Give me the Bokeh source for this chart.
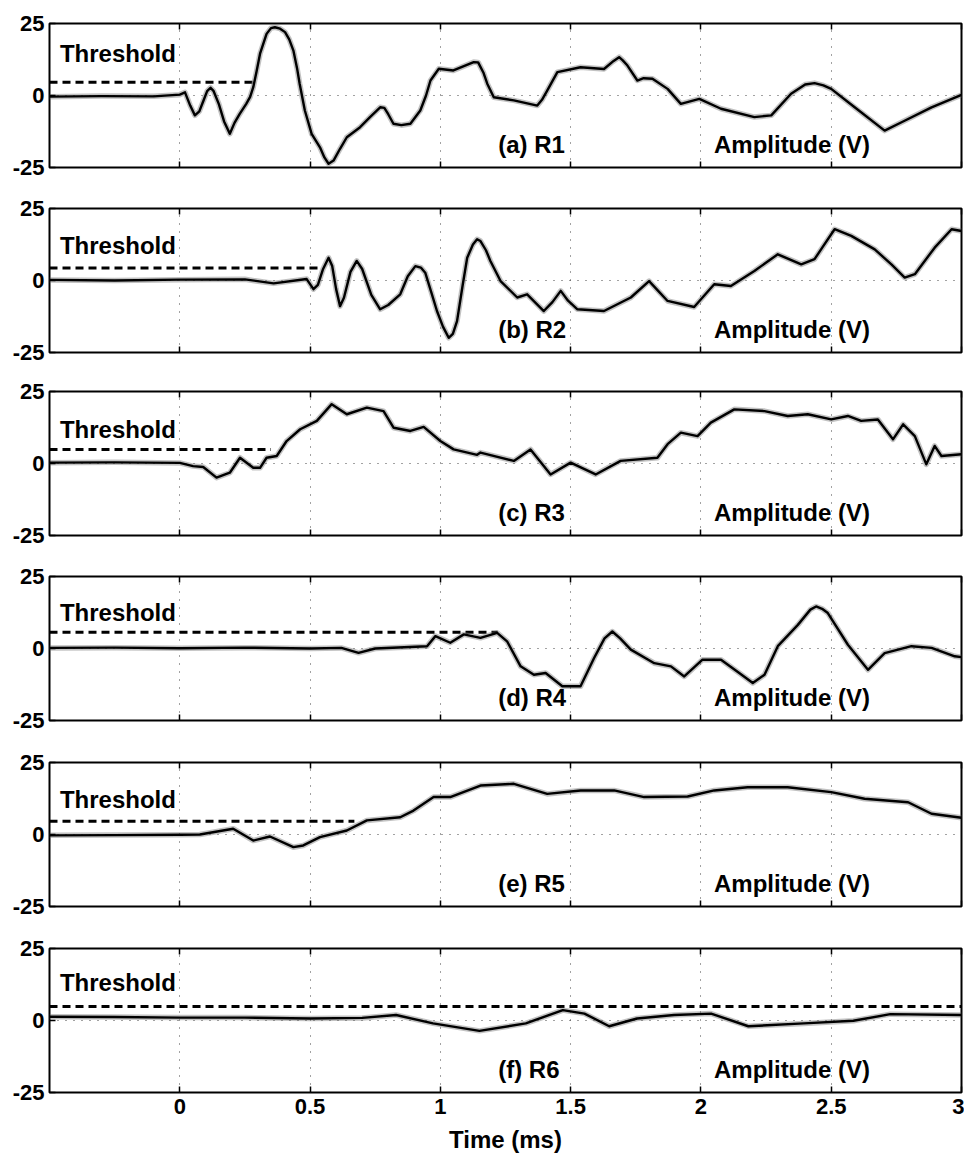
from bokeh.plotting import figure
from bokeh.models import Range1d, FixedTicker, LinearAxis, Label
from bokeh.layouts import column
from bokeh.embed import file_html
from bokeh.resources import INLINE

# ---------------- data ----------------
x_ticks = [0, 0.5, 1, 1.5, 2, 2.5, 3]
x_tick_labels = ["0", "0.5", "1", "1.5", "2", "2.5", "3"]
y_ticks = [-25, 0, 25]
y_tick_labels = ["-25", "0", "25"]

panel_names = ["(a) R1", "(b) R2", "(c) R3", "(d) R4", "(e) R5", "(f) R6"]

t_r1 = [-0.5, -0.3, -0.1, 0.0, 0.02, 0.04, 0.058, 0.075, 0.09, 0.105, 0.118, 0.13, 0.15,
        0.17, 0.192, 0.21, 0.23, 0.255, 0.27, 0.282, 0.295, 0.308, 0.333, 0.35, 0.365,
        0.385, 0.404, 0.42, 0.436, 0.45, 0.46, 0.48, 0.506, 0.538, 0.555, 0.571, 0.59,
        0.615, 0.641, 0.692, 0.73, 0.769, 0.785, 0.80, 0.82, 0.85, 0.885, 0.923, 0.945,
        0.962, 0.994, 1.05, 1.128, 1.145, 1.165, 1.18, 1.205, 1.282, 1.372, 1.39, 1.41,
        1.449, 1.538, 1.628, 1.665, 1.686, 1.70, 1.718, 1.756, 1.78, 1.814, 1.872, 1.923,
        1.994, 2.077, 2.205, 2.27, 2.346, 2.40, 2.436, 2.47, 2.5, 2.59, 2.705, 2.77, 2.885, 3.0]
v_r1 = [-0.4, -0.2, -0.3, 0.3, 1.1, -3.5, -6.9, -5.5, -2.0, 1.5, 2.7, 1.5, -3.0,
        -9.0, -13.3, -9.5, -6.4, -2.9, -0.5, 2.9, 8.5, 14.5, 21.4, 23.4, 23.7,
        23.2, 22.0, 19.5, 15.6, 9.5, 4.1, -5.2, -13.3, -18.0, -21.5, -23.7, -22.6,
        -18.5, -14.5, -11.0, -7.5, -4.1, -4.3, -6.5, -9.8, -10.3, -9.8, -5.2, 0.0,
        5.2, 9.3, 8.7, 11.6, 11.5, 8.0, 4.1, -0.6, -1.7, -3.5, -1.5, 1.7,
        8.1, 9.8, 9.2, 12.0, 13.3, 12.2, 10.4, 5.2, 6.0, 5.8, 2.3, -2.9,
        -1.2, -4.6, -7.5, -6.9, 0.6, 3.8, 4.3, 3.5, 2.3, -4.1, -12.2, -9.3, -4.1, 0.2]

t_r2 = [-0.5, -0.25, 0.0, 0.25, 0.36, 0.487, 0.513, 0.53, 0.55, 0.571, 0.585, 0.60, 0.615,
        0.63, 0.655, 0.679, 0.70, 0.735, 0.769, 0.80, 0.846, 0.875, 0.904, 0.925, 0.942,
        0.965, 0.987, 1.01, 1.032, 1.048, 1.064, 1.085, 1.103, 1.125, 1.141, 1.154, 1.175,
        1.192, 1.231, 1.295, 1.333, 1.397, 1.43, 1.462, 1.49, 1.526, 1.628, 1.731, 1.801,
        1.835, 1.872, 1.974, 2.051, 2.115, 2.205, 2.295, 2.385, 2.436, 2.47, 2.513, 2.577,
        2.667, 2.731, 2.782, 2.821, 2.897, 2.962, 3.0]
v_r2 = [0.2, 0.0, 0.3, 0.4, -1.0, 0.5, -3.0, -1.5, 4.0, 7.9, 5.0, -3.0, -8.9,
        -6.0, 3.0, 6.8, 4.0, -5.0, -10.0, -8.5, -4.8, 1.5, 5.0, 4.5, 2.7,
        -4.0, -10.6, -16.0, -19.9, -18.5, -14.1, -2.0, 7.9, 12.5, 14.3, 13.7, 10.5,
        6.8, -0.2, -5.9, -4.8, -10.6, -7.5, -3.6, -7.0, -10.0, -10.6, -5.9, -0.2,
        -3.5, -7.1, -9.2, -1.3, -1.9, 3.3, 9.1, 5.6, 7.4, 12.0, 17.8, 15.5,
        10.8, 5.6, 1.0, 2.2, 11.4, 17.8, 17.2]

t_r3 = [-0.5, -0.25, 0.0, 0.051, 0.09, 0.141, 0.192, 0.231, 0.282, 0.308, 0.333, 0.372,
        0.41, 0.462, 0.526, 0.583, 0.641, 0.718, 0.782, 0.821, 0.885, 0.936, 1.0, 1.051,
        1.141, 1.154, 1.282, 1.346, 1.423, 1.5, 1.596, 1.692, 1.833, 1.872, 1.923, 1.987,
        2.038, 2.128, 2.244, 2.333, 2.41, 2.5, 2.564, 2.615, 2.679, 2.737, 2.776, 2.821,
        2.865, 2.897, 2.923, 3.0]
v_r3 = [0.3, 0.4, 0.2, -0.9, -1.2, -4.9, -3.2, 2.0, -1.5, -1.5, 2.0, 2.6,
        7.8, 11.9, 14.8, 20.6, 17.1, 19.4, 18.2, 12.4, 11.3, 12.7, 7.8, 4.9,
        3.0, 3.8, 0.9, 4.9, -3.8, 0.3, -3.8, 0.9, 2.0, 6.7, 10.7, 9.5,
        14.2, 18.8, 18.2, 16.5, 17.1, 15.3, 16.5, 14.8, 15.3, 8.4, 13.6, 9.5,
        -0.3, 6.1, 2.6, 3.2]

t_r4 = [-0.5, -0.25, 0.0, 0.25, 0.5, 0.62, 0.686, 0.75, 0.949, 0.981, 1.038, 1.09, 1.154,
        1.218, 1.256, 1.308, 1.359, 1.404, 1.468, 1.538, 1.59, 1.63, 1.66, 1.69, 1.731,
        1.821, 1.885, 1.936, 2.006, 2.077, 2.147, 2.199, 2.244, 2.295, 2.372, 2.42, 2.442,
        2.465, 2.487, 2.564, 2.641, 2.705, 2.808, 2.885, 2.974, 3.0]
v_r4 = [0.2, 0.3, 0.1, 0.3, 0.0, 0.2, -1.5, 0.0, 0.8, 4.3, 2.0, 4.9, 3.7,
        5.4, 2.5, -6.2, -9.1, -8.5, -13.1, -13.1, -3.3, 3.5, 5.9, 3.5, -0.4,
        -5.1, -6.2, -9.7, -3.9, -3.9, -8.5, -12.0, -9.1, 0.8, 8.2, 13.5, 14.6,
        13.8, 12.3, 1.3, -7.4, -1.6, 0.8, 0.2, -2.7, -3.0]

t_r5 = [-0.5, -0.25, 0.0, 0.077, 0.205, 0.282, 0.346, 0.436, 0.474, 0.538, 0.641, 0.718,
        0.846, 0.897, 0.974, 1.038, 1.154, 1.282, 1.41, 1.538, 1.667, 1.782, 1.949, 2.051,
        2.179, 2.333, 2.5, 2.628, 2.795, 2.885, 3.0]
v_r5 = [-0.3, -0.2, -0.1, 0.0, 2.0, -2.1, -0.7, -4.4, -3.8, -0.9, 1.4, 4.9,
        6.0, 8.3, 13.0, 13.0, 17.0, 17.6, 14.1, 15.3, 15.3, 13.0, 13.2, 15.3,
        16.4, 16.4, 14.7, 12.4, 11.2, 7.2, 5.8]

t_r6 = [-0.5, -0.25, 0.0, 0.25, 0.5, 0.7, 0.83, 0.972, 1.15, 1.328, 1.47, 1.553, 1.648,
        1.755, 1.897, 2.039, 2.182, 2.395, 2.585, 2.727, 3.0]
v_r6 = [1.3, 1.2, 1.0, 1.0, 0.7, 0.9, 1.9, -1.0, -3.6, -1.0, 3.6, 2.4, -2.0,
        0.7, 1.9, 2.4, -2.0, -1.0, -0.1, 2.2, 1.9]

threshold_levels = [4.6, 4.3, 4.9, 5.6, 4.6, 4.9]
threshold_end = [0.28, 0.54, 0.35, 1.22, 0.67, 3.0]

series_t = [t_r1, t_r2, t_r3, t_r4, t_r5, t_r6]
series_v = [v_r1, v_r2, v_r3, v_r4, v_r5, v_r6]

# ---------------- layout / style ----------------
FONT = "Liberation Sans"
frame_tops = [23, 208, 391, 576, 762, 948]
FRAME_H = 144
thr_label_y = [14.7, 12.2, 11.9, 12.4, 12.1, 13.1]
name_label_y = -16.9


def style_axis(ax, show_labels, size="22px"):
    ax.axis_line_color = None
    ax.major_tick_in = 6
    ax.major_tick_out = 0
    ax.major_tick_line_width = 1.5
    ax.major_tick_line_color = "black"
    ax.minor_tick_line_color = None
    ax.major_label_text_font = FONT
    ax.major_label_text_font_style = "bold"
    ax.major_label_text_color = "black"
    ax.major_label_text_font_size = size if show_labels else "0px"


figs = []
prev_bottom = 0
for i in range(6):
    last = i == 5
    top_border = frame_tops[i] - prev_bottom
    bottom_border = 60 if last else 20
    p = figure(frame_width=912, frame_height=FRAME_H,
               x_range=Range1d(-0.5, 3), y_range=Range1d(-25, 25),
               output_backend="svg", toolbar_location=None,
               min_border_left=49, min_border_right=3,
               min_border_top=top_border, min_border_bottom=bottom_border,
               background_fill_color="white", border_fill_color="white")
    prev_bottom = frame_tops[i] + FRAME_H + bottom_border

    p.outline_line_color = "black"
    p.outline_line_width = 2
    p.outline_line_alpha = 1

    # bottom axis
    xa = p.xaxis[0]
    xa.ticker = FixedTicker(ticks=x_ticks)
    xa.major_label_overrides = {k: (lab if last else "") for k, lab in zip(x_ticks, x_tick_labels)}
    style_axis(xa, last, "22px")
    xa.major_label_standoff = 6
    if last:
        xa.axis_label = "Time (ms)"
        xa.axis_label_text_font = FONT
        xa.axis_label_text_font_style = "bold"
        xa.axis_label_text_font_size = "24px"
        xa.axis_label_text_color = "black"
        xa.axis_label_standoff = 9

    # left axis
    ya = p.yaxis[0]
    ya.ticker = FixedTicker(ticks=y_ticks)
    ya.major_label_overrides = {k: lab for k, lab in zip(y_ticks, y_tick_labels)}
    style_axis(ya, True, "22px")
    ya.major_label_standoff = 5

    # top axis (ticks only)
    ta = LinearAxis(ticker=FixedTicker(ticks=x_ticks))
    ta.major_label_overrides = {k: "" for k in x_ticks}
    style_axis(ta, False)
    ta.major_label_standoff = 0
    p.add_layout(ta, "above")

    # grid
    p.xgrid.ticker = FixedTicker(ticks=x_ticks)
    p.ygrid.ticker = FixedTicker(ticks=[0])
    p.grid.grid_line_color = "#444444"
    p.grid.grid_line_dash = "1 7"
    p.grid.grid_line_width = 1

    # threshold
    p.line([-0.5, threshold_end[i]], [threshold_levels[i], threshold_levels[i]],
           line_color="black", line_width=3, line_dash="8 5")

    # signal
    p.line(series_t[i], series_v[i], line_color="#666666", line_width=5.5, line_alpha=0.4,
           line_join="round")
    p.line(series_t[i], series_v[i], line_color="black", line_width=2.4, line_join="round")

    # labels
    p.add_layout(Label(x=-0.46, y=thr_label_y[i], text="Threshold", text_font=FONT,
                       text_font_style="bold", text_font_size="24px", text_color="black",
                       text_baseline="alphabetic", text_align="left"))
    p.add_layout(Label(x=1.222, y=name_label_y, text=panel_names[i], text_font=FONT,
                       text_font_style="bold", text_font_size="24px", text_color="black",
                       text_baseline="alphabetic", text_align="left"))
    p.add_layout(Label(x=2.05, y=name_label_y, text="Amplitude (V)", text_font=FONT,
                       text_font_style="bold", text_font_size="24px", text_color="black",
                       text_baseline="alphabetic", text_align="left"))
    figs.append(p)

layout = column(*figs, spacing=0)
open("out.html", "w").write(file_html(layout, INLINE))
